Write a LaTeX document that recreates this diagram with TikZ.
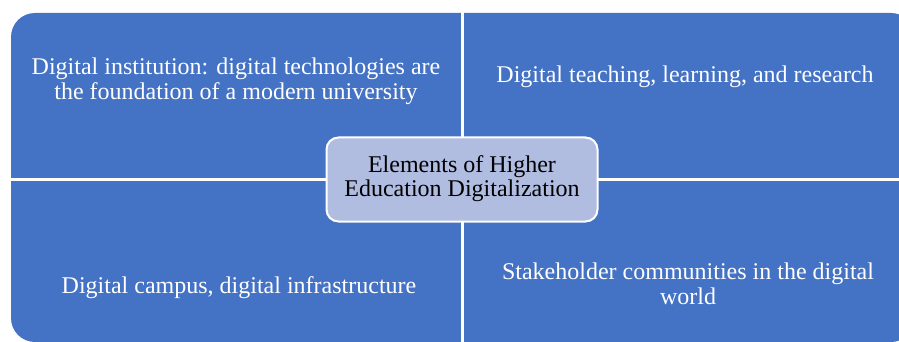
\documentclass[tikz,border=0pt]{standalone}
\usepackage{fontspec}
\setmainfont{Liberation Serif}
\usepackage{tikz}
\definecolor{quadblue}{HTML}{4472C4}
\definecolor{hubfill}{HTML}{B0BCE0}

\begin{document}
\begin{tikzpicture}[x=1pt,y=-1pt,
  quadtext/.style={text=white,align=center,font=\fontsize{24}{25}\selectfont},
  hubbox/.style={draw=white,line width=2pt,fill=hubfill,rounded corners=12pt,
    minimum width=271pt,minimum height=84pt,align=center,font=\fontsize{24}{24}\selectfont}]
\useasboundingbox (0,0) rectangle (899,342);
\clip (0,0) rectangle (899,342);
\fill[quadblue,rounded corners=24pt] (11,13) rectangle (915,342);
\draw[white,line width=3pt] (462,0) -- (462,342);
\draw[white,line width=3pt] (0,179) -- (899,179);
\node[quadtext] (institution) at (236,81.5) {Digital institution: digital technologies are\\the foundation of a modern university};
\node[quadtext] (teaching) at (685,77) {Digital teaching, learning, and research};
\node[quadtext] (campus) at (239,288) {Digital campus, digital infrastructure};
\node[quadtext] (stakeholders) at (688,283.5) {Stakeholder communities in the digital\\world};
\node[hubbox] (hub) at (462,179.5) {\raisebox{-3pt}{\begin{tabular}{@{}c@{}}Elements of Higher\\Education Digitalization\end{tabular}}};
\end{tikzpicture}
\end{document}
